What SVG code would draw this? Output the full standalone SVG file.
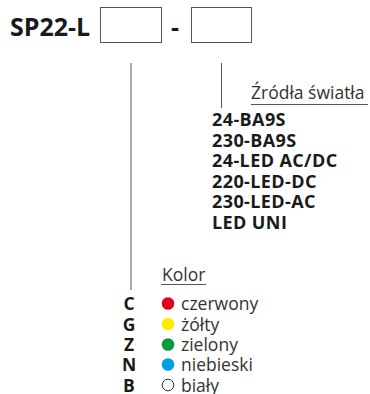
<svg xmlns="http://www.w3.org/2000/svg" width="370" height="394" viewBox="0 0 370 394">
<style>
.b{font-family:"Open Sans","Liberation Sans",sans-serif;font-weight:700;fill:#1a1a1a}
.t{font-family:"Open Sans","Liberation Sans",sans-serif;font-size:17.5px;fill:#333}
.code{font-size:18px;letter-spacing:0.4px}
.leg{font-size:17.5px;text-anchor:middle}
.ln{stroke:#555;stroke-width:1;fill:none}
.box{fill:#fff;stroke:#555;stroke-width:1}
</style>
<rect width="370" height="394" fill="#fff"/>
<g id="title">
<text class="b" x="10" y="36" font-size="25" font-weight="800">SP22-L</text>
<rect class="box" x="100.5" y="7.5" width="61" height="35"/>
<text class="b" x="171" y="36" font-size="25" font-weight="800">-</text>
<rect class="box" x="191.5" y="7.5" width="60" height="35"/>
</g>
<g id="connectors">
<line class="ln" x1="131" y1="63" x2="131" y2="290"/>
<line class="ln" x1="221.5" y1="63" x2="221.5" y2="108"/>
<line class="ln" x1="251" y1="104.5" x2="368" y2="104.5"/>
<line class="ln" x1="161" y1="284.5" x2="206" y2="284.5"/>
</g>
<g id="sources">
<text class="t" x="251" y="99">Źródła światła</text>
<text class="b code" x="212" y="126">24-BA9S</text>
<text class="b code" x="212" y="146.5">230-BA9S</text>
<text class="b code" x="212" y="167">24-LED AC/DC</text>
<text class="b code" x="212" y="187.5">220-LED-DC</text>
<text class="b code" x="212" y="208">230-LED-AC</text>
<text class="b code" x="212" y="228.5">LED UNI</text>
</g>
<g id="colors">
<text class="t" x="162" y="281">Kolor</text>
<text class="b leg" x="129" y="310">C</text>
<text class="b leg" x="129" y="330.5">G</text>
<text class="b leg" x="129" y="351">Z</text>
<text class="b leg" x="129" y="371">N</text>
<text class="b leg" x="129" y="391.5">B</text>
<circle cx="168" cy="303.5" r="6.3" fill="#e2001a"/>
<circle cx="168" cy="324" r="6.3" fill="#ffed00"/>
<circle cx="168" cy="344.5" r="6.3" fill="#009a3e"/>
<circle cx="168" cy="364.5" r="6.3" fill="#009fe3"/>
<circle cx="168" cy="385" r="5.8" fill="#fff" stroke="#333" stroke-width="1"/>
<text class="t" x="181" y="310">czerwony</text>
<text class="t" x="181" y="330.5">żółty</text>
<text class="t" x="181" y="351">zielony</text>
<text class="t" x="181" y="371">niebieski</text>
<text class="t" x="181" y="391.5">biały</text>
</g>
</svg>
